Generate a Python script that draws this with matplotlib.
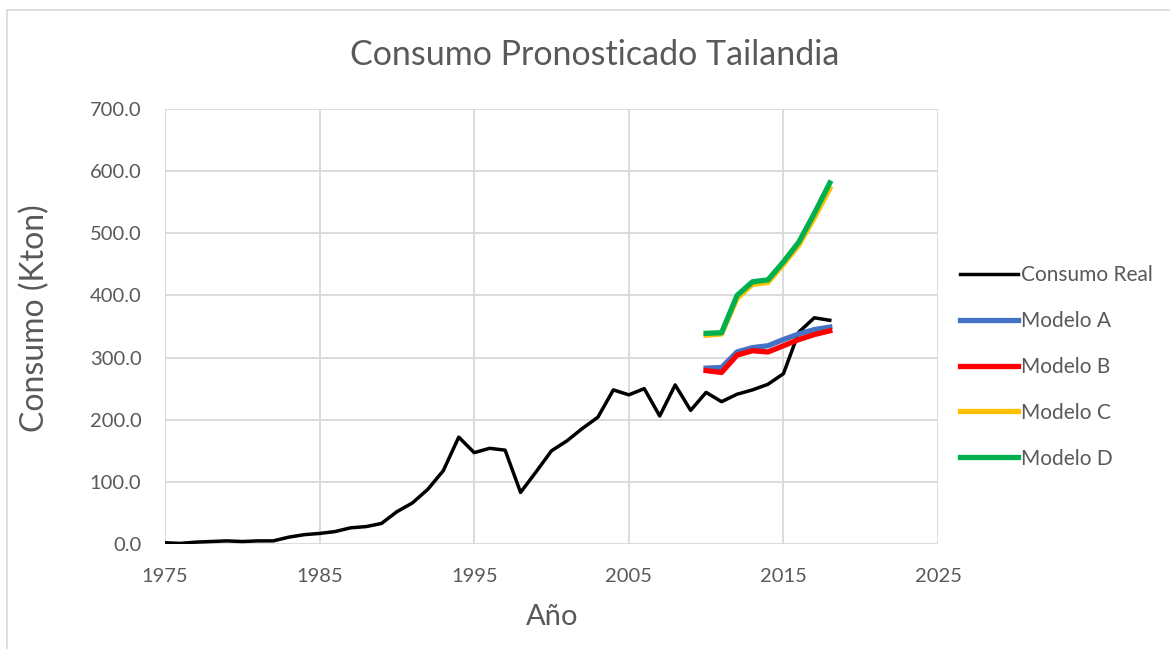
import numpy as np
import matplotlib
matplotlib.use('Agg')
import matplotlib.pyplot as plt
from matplotlib.lines import Line2D

plt.rcParams['font.family'] = ['Lato', 'DejaVu Sans']

# --- datos ---
anios = list(range(1975, 2019))
consumo_real = [2, 1, 3, 4, 5, 4, 5, 5, 11, 15, 17, 20, 26, 28, 33, 52, 66, 88,
                118, 172, 147, 154, 151, 83, 116, 150, 166, 186, 204, 248, 240,
                250, 206, 256, 215, 244, 229, 241, 248, 257, 274, 341, 364, 360]

anios_modelo = list(range(2010, 2019))
modelo_a = [283, 284, 309, 316, 319, 329, 338, 345, 349]
modelo_b = [279, 276, 304, 311, 309, 319, 329, 337, 343]
modelo_c = [336, 338, 395, 418, 421, 450, 481, 525, 572]
modelo_d = [339, 340, 400, 422, 425, 454, 486, 532, 581]

W, H = 1170, 649
fig = plt.figure(figsize=(W / 100, H / 100), dpi=100)
ax = fig.add_axes([165 / W, 1 - 544 / H, (938 - 165) / W, (544 - 109) / H])

gris = '#595959'
ax.plot(anios, consumo_real, color='black', lw=2.5, label='Consumo Real')
ax.plot(anios_modelo, modelo_a, color='#4472C4', lw=3.8, label='Modelo A')
ax.plot(anios_modelo, modelo_b, color='#FF0000', lw=3.8, label='Modelo B')
ax.plot(anios_modelo, modelo_c, color='#FFC000', lw=3.8, label='Modelo C')
ax.plot(anios_modelo, modelo_d, color='#00B050', lw=3.8, label='Modelo D')

ax.set_xlim(1975, 2025)
ax.set_ylim(0, 700)
ax.set_xticks(range(1975, 2026, 10))
ax.set_yticks(range(0, 701, 100))
ax.set_yticklabels([f'{v:.1f}' for v in range(0, 701, 100)])
ax.grid(True, color='#d9d9d9', lw=1.3)
ax.set_axisbelow(True)
for s in ax.spines.values():
    s.set_visible(False)
ax.tick_params(length=0, colors=gris, labelsize=14.5)
ax.tick_params(axis='x', pad=17)
ax.tick_params(axis='y', pad=17)

# titulos
fig.text(595 / W, 1 - 55 / H, 'Consumo Pronosticado Tailandia', fontsize=24.5,
         color=gris, ha='center', va='center')
fig.text(552 / W, 1 - 617 / H, 'Año', fontsize=21, color=gris, ha='center', va='center')
fig.text(35 / W, 1 - 318 / H, 'Consumo (Kton)', fontsize=23, color=gris,
         ha='center', va='center', rotation=90)

leg = ax.legend(loc='center left', bbox_to_anchor=(1.004, 0.407), frameon=False,
                fontsize=15, labelspacing=1.24, handlelength=2.8, handletextpad=0.12)
for t in leg.get_texts():
    t.set_color(gris)

# marco del gráfico
fig.add_artist(Line2D([7 / W, 7 / W], [0, 1 - 10 / H], color='#d9d9d9', lw=1.2))
fig.add_artist(Line2D([7 / W, 1], [1 - 10 / H, 1 - 10 / H], color='#d9d9d9', lw=1.2))

plt.savefig('out.png', dpi=100)
